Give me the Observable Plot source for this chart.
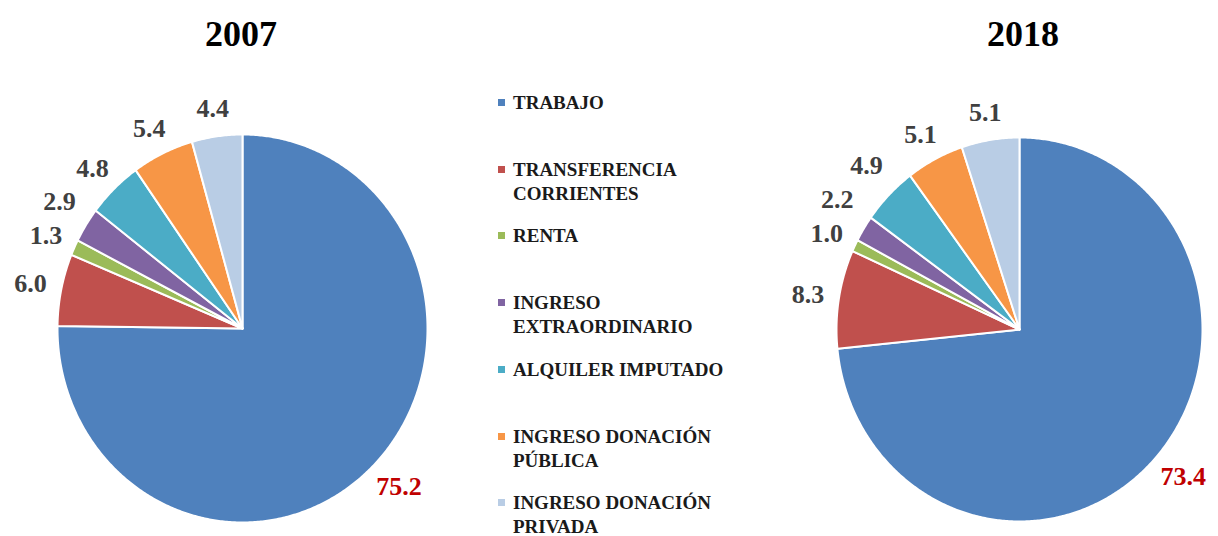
<!DOCTYPE html>
<html>
<head>
<meta charset="utf-8">
<script src="https://cdn.jsdelivr.net/npm/d3@7"></script>
<script src="https://cdn.jsdelivr.net/npm/@observablehq/plot@0.6"></script>
<style>
  html, body { margin: 0; padding: 0; background: #fff; }
  #wrap { position: relative; width: 1218px; height: 536px; overflow: hidden; font-family: "Liberation Serif", "Times New Roman", serif; }
  .title { position: absolute; font-family: "Liberation Serif", serif; font-weight: bold; font-size: 36px; color: #000; transform: translate(-50%, -50%); line-height: 1; white-space: nowrap; }
  .pie { position: absolute; top: 0; }
  .leg { position: absolute; left: 498px; font-family: "Liberation Serif", serif; font-weight: bold; font-size: 19px; color: #1a1a1a; line-height: 24px; white-space: nowrap; }
  .leg .sw { position: absolute; left: 0; top: 8px; width: 7px; height: 7px; }
  .leg .tx { position: absolute; left: 15px; top: 0; }
</style>
</head>
<body>
<div id="wrap"></div>
<script>
const categories = ["TRABAJO", "TRANSFERENCIA CORRIENTES", "RENTA", "INGRESO EXTRAORDINARIO", "ALQUILER IMPUTADO", "INGRESO DONACIÓN PÚBLICA", "INGRESO DONACIÓN PRIVADA"];
const legendLines = [["TRABAJO"], ["TRANSFERENCIA", "CORRIENTES"], ["RENTA"], ["INGRESO", "EXTRAORDINARIO"], ["ALQUILER IMPUTADO"], ["INGRESO DONACIÓN", "PÚBLICA"], ["INGRESO DONACIÓN", "PRIVADA"]];
const values2007 = [75.2, 6.0, 1.3, 2.9, 4.8, 5.4, 4.4];
const values2018 = [73.4, 8.3, 1.0, 2.2, 4.9, 5.1, 5.1];
const years = ["2007", "2018"];
const colors = ["#4F81BD", "#C0504D", "#9BBB59", "#8064A2", "#4BACC6", "#F79646", "#B9CDE5"];

const SERIF = "'Liberation Serif', 'Times New Roman', serif";
const wrap = document.getElementById("wrap");
const H = 536;

// layout of each pie (pixels)
const pies = [
  {year: years[0], values: values2007, left: 0, width: 500, cx: 242, cy: 328, rx: 185, ry: 194, tx: 241, ty: 34},
  {year: years[1], values: values2018, left: 740, width: 478, cx: 279, cy: 329, rx: 183, ry: 192, tx: 1023, ty: 34}
];

// label placement: box touching the slice's outer edge, then de-overlap
const PAD = 15, HH = 13, GAP = 34, CHARW = 13;

function sliceData(values, rx, ry) {
  const total = d3.sum(values);
  const pts = [];
  const labels = [];
  let cum = 0;
  values.forEach((v, i) => {
    const a0 = cum / total * 2 * Math.PI;
    cum += v;
    const a1 = cum / total * 2 * Math.PI;
    const n = Math.max(2, Math.ceil((a1 - a0) / (Math.PI / 360)) + 1);
    pts.push({cat: categories[i], x: 0, y: 0});
    for (let k = 0; k < n; k++) {
      const a = a0 + (a1 - a0) * k / (n - 1);
      pts.push({cat: categories[i], x: Math.sin(a), y: Math.cos(a)});
    }
    pts.push({cat: categories[i], x: 0, y: 0});
    const am = (a0 + a1) / 2;
    const text = v.toFixed(1);
    const hw = (text.length - 0.5) * CHARW / 2;
    const ux = Math.sin(am), uy = -Math.cos(am); // pixel direction, y down
    // pixel offsets relative to centre
    let px = rx * ux + ux * (PAD + hw);
    let py = ry * uy + uy * (PAD + HH);
    labels.push({cat: categories[i], value: v, text, px, py, hw, left: ux < 0, main: i === 0});
  });
  // de-overlap in slice order
  for (let i = 1; i < labels.length; i++) {
    const L = labels[i];
    for (let j = 1; j < i; j++) {
      const M = labels[j];
      const overlapX = Math.abs(L.px - M.px) < (L.hw + M.hw);
      if (overlapX && Math.abs(L.py - M.py) < GAP) {
        L.py = L.left ? M.py - GAP : M.py + GAP;
      }
    }
  }
  labels.forEach(L => { L.x = L.px / rx; L.y = -L.py / ry; });
  return {pts, labels};
}

pies.forEach(p => {
  const {pts, labels} = sliceData(p.values, p.rx, p.ry);
  const chart = Plot.plot({
    width: p.width,
    height: H,
    margin: 0,
    x: {domain: [-p.cx / p.rx, (p.width - p.cx) / p.rx], axis: null},
    y: {domain: [-(H - p.cy) / p.ry, p.cy / p.ry], axis: null},
    color: {domain: categories, range: colors},
    style: {background: "transparent", overflow: "visible", fontFamily: SERIF},
    marks: [
      Plot.line(pts, {x: "x", y: "y", z: "cat", fill: "cat", stroke: "white", strokeWidth: 2, strokeLinejoin: "round"}),
      Plot.text(labels.filter(d => !d.main), {x: "x", y: "y", text: "text", fill: "#404040", fontSize: 26, fontWeight: "bold", fontFamily: SERIF}),
      Plot.text(labels.filter(d => d.main), {x: "x", y: "y", text: "text", fill: "#C00000", fontSize: 26, fontWeight: "bold", fontFamily: SERIF})
    ]
  });
  chart.classList.add("pie");
  chart.style.left = p.left + "px";
  wrap.appendChild(chart);

  const t = document.createElement("div");
  t.className = "title";
  t.textContent = p.year;
  t.style.left = p.tx + "px";
  t.style.top = p.ty + "px";
  wrap.appendChild(t);
});

// legend
legendLines.forEach((lines, i) => {
  const d = document.createElement("div");
  d.className = "leg";
  d.style.top = (103 + i * 66.7 - 12) + "px";
  const sw = document.createElement("div");
  sw.className = "sw";
  sw.style.background = colors[i];
  d.appendChild(sw);
  const tx = document.createElement("div");
  tx.className = "tx";
  tx.innerHTML = lines.join("<br>");
  d.appendChild(tx);
  wrap.appendChild(d);
});
</script>
</body>
</html>
